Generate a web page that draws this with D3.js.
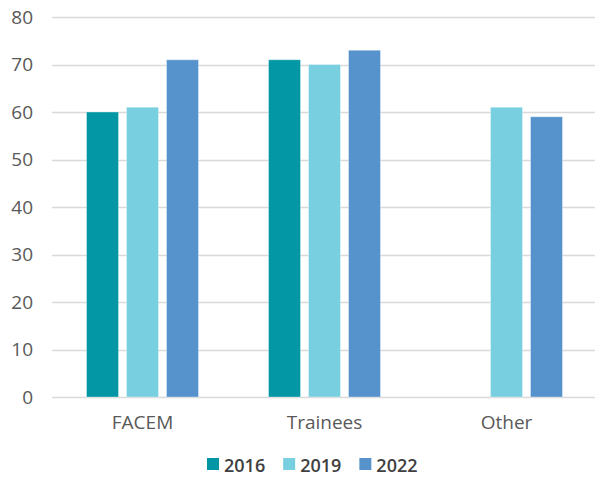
<!DOCTYPE html>
<html>
<head>
<meta charset="utf-8">
<script src="https://cdn.jsdelivr.net/npm/d3@7"></script>
<style>
  body { margin: 0; background: #fff; }
  svg { display: block; font-family: "Open Sans", sans-serif; }
</style>
</head>
<body>
<script>
const categories = ['FACEM', 'Trainees', 'Other'];
const years = ['2016', '2019', '2022'];
const values2016 = [60, 71, null];
const values2019 = [61, 70, 61];
const values2022 = [71, 73, 59];
const yTicks = [0, 10, 20, 30, 40, 50, 60, 70, 80];
const colors = ['#0397a5', '#78cfdf', '#5693cc'];

const series = [values2016, values2019, values2022];

const width = 595;
const height = 480;

const svg = d3.select('body')
    .append('svg')
    .attr('width', width)
    .attr('height', height);

const x = d3.scaleBand()
    .domain(categories)
    .range([51.5, 597.5])
    .padding(0);

const xInner = d3.scaleBand()
    .domain(years)
    .range([0, 112])
    .paddingInner(0.2);

const y = d3.scaleLinear()
    .domain([0, 80])
    .range([397, 17]);

// gridlines
svg.append('g')
    .selectAll('line')
    .data(yTicks)
    .join('line')
    .attr('x1', 52)
    .attr('x2', 595)
    .attr('y1', d => Math.round(y(d)) + 0.5)
    .attr('y2', d => Math.round(y(d)) + 0.5)
    .style('stroke', '#d9d9d9')
    .style('stroke-width', 1.3);

// y tick labels
svg.append('g')
    .selectAll('text')
    .data(yTicks)
    .join('text')
    .attr('x', 33)
    .attr('y', d => y(d))
    .attr('dy', '0.36em')
    .attr('text-anchor', 'end')
    .style('font-size', '19px')
    .style('fill', '#595959')
    .text(d => d);

// bars
const groups = svg.append('g')
    .selectAll('g')
    .data(categories)
    .join('g')
    .attr('transform', d => `translate(${x(d) + x.bandwidth() / 2 - 56},0)`);

groups.selectAll('rect')
    .data((c, i) => years.map((yr, j) => ({year: yr, value: series[j][i], color: colors[j]})))
    .join('rect')
    .filter(d => d.value != null)
    .attr('x', d => xInner(d.year))
    .attr('width', xInner.bandwidth())
    .attr('y', d => y(d.value))
    .attr('height', d => y(0) - y(d.value))
    .style('fill', d => d.color)
    .style('stroke', 'white')
    .style('stroke-opacity', 0.35)
    .style('stroke-width', 1);

// category labels
svg.append('g')
    .selectAll('text')
    .data(categories)
    .join('text')
    .attr('x', d => x(d) + x.bandwidth() / 2)
    .attr('y', 429)
    .attr('text-anchor', 'middle')
    .style('font-size', '19px')
    .style('fill', '#595959')
    .text(d => d);

// legend
const legend = svg.append('g');
let lx = 207;
years.forEach((yr, i) => {
    legend.append('rect')
        .attr('x', lx)
        .attr('y', 458)
        .attr('width', 12)
        .attr('height', 12)
        .style('fill', colors[i]);
    const t = legend.append('text')
        .attr('x', lx + 17)
        .attr('y', 471.5)
        .style('font-size', '18px')
        .style('font-weight', 600)
        .style('fill', '#404040')
        .text(yr);
    lx += 17 + t.node().getComputedTextLength() + 18;
});
</script>
</body>
</html>
